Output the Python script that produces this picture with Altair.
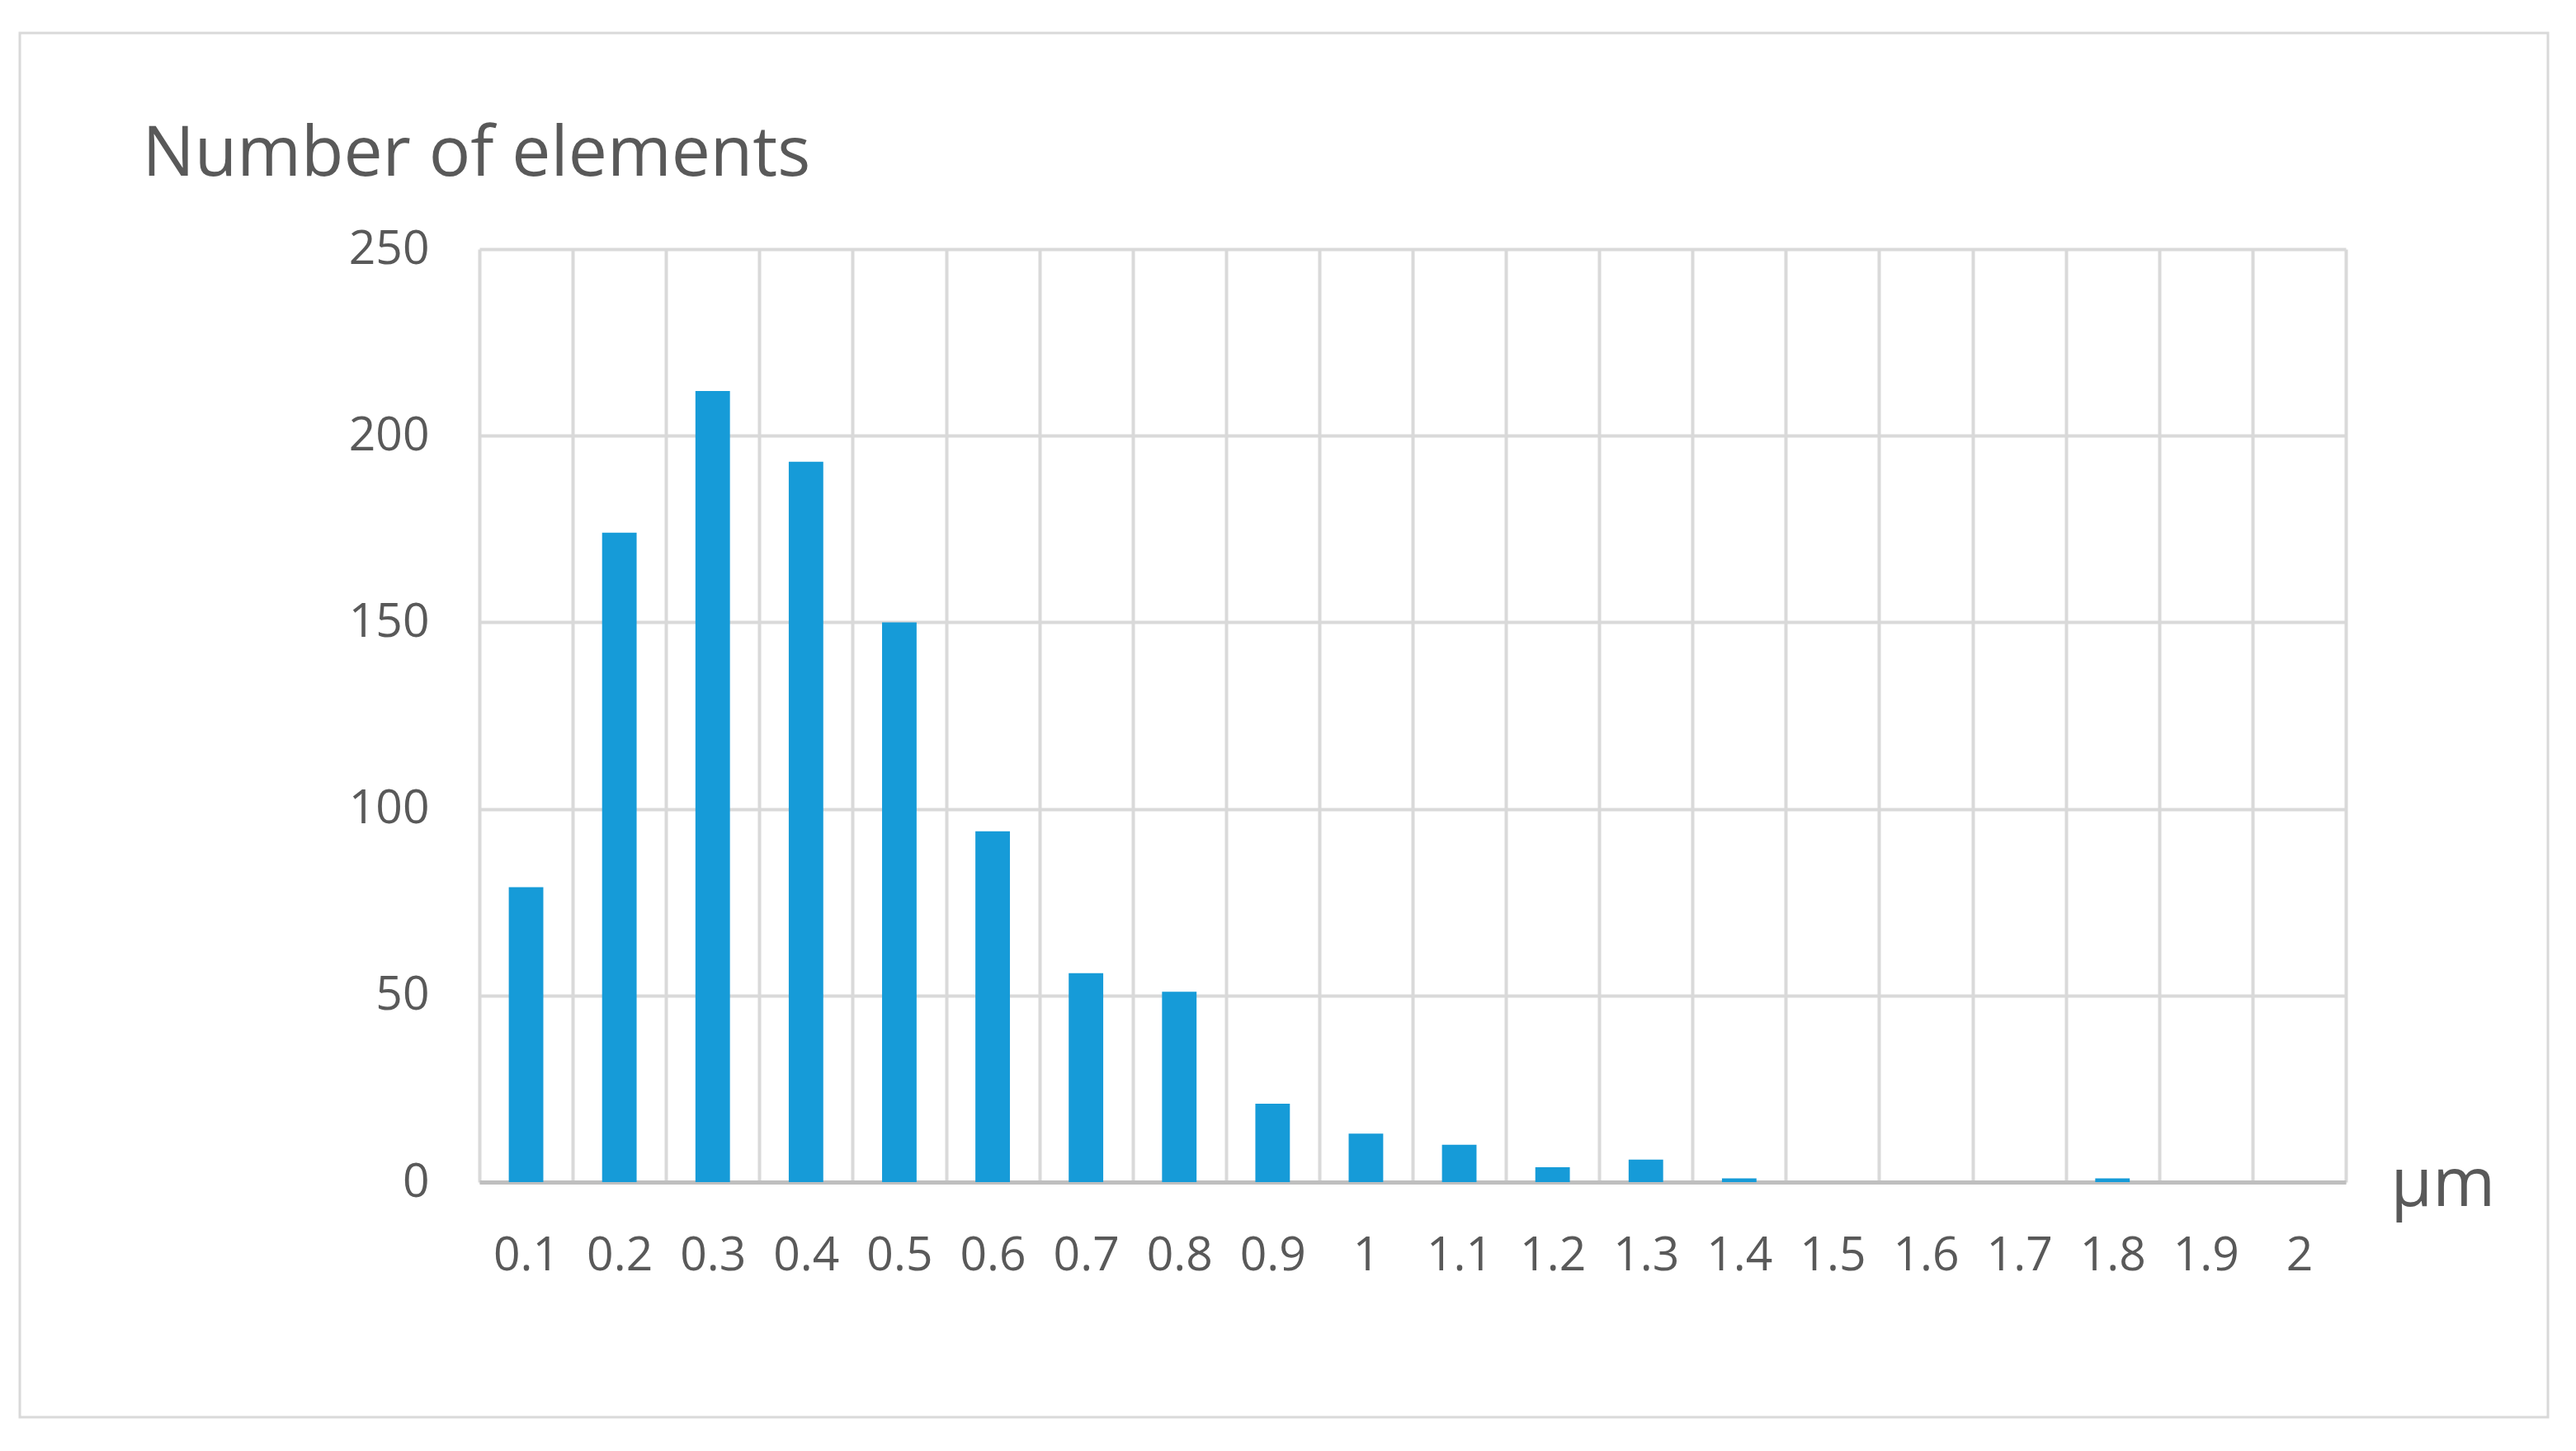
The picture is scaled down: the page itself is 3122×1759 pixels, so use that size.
import altair as alt
import pandas as pd

categories = ["0.1", "0.2", "0.3", "0.4", "0.5", "0.6", "0.7", "0.8", "0.9", "1",
              "1.1", "1.2", "1.3", "1.4", "1.5", "1.6", "1.7", "1.8", "1.9", "2"]
counts = [79, 174, 212, 193, 150, 94, 56, 51, 21, 13, 10, 4, 6, 1, 0, 0, 0, 1, 0, 0]
y_ticks = [0, 50, 100, 150, 200, 250]

df = pd.DataFrame({"size": categories, "count": counts})

FONT = "Open Sans"
TEXT = "#595959"
GRID = "#d9d9d9"
BAR = "#169BD8"

PL, PT, W, H = 581, 302, 2262, 1131
pad = {"left": PL - 8, "top": PT - 8,
       "right": 3100 - (PL - 8) - W, "bottom": 1740 - (PT - 8) - H}

frame = alt.Chart(pd.DataFrame({"a": [0]})).mark_rect(
    filled=False, stroke=GRID, strokeWidth=3
).encode(
    x=alt.value(24 - PL), x2=alt.value(3088 - PL),
    y=alt.value(40 - PT), y2=alt.value(1718 - PT),
)

bars = alt.Chart(df).mark_bar(color=BAR, width=alt.RelativeBandSize(0.37)).encode(
    x=alt.X(
        "size:N", sort=categories,
        scale=alt.Scale(paddingInner=0, paddingOuter=0),
        axis=alt.Axis(
            title="µm", titleX=2897 - PL, titleY=28, titleAlign="left",
            titleBaseline="alphabetic", titleFontSize=82, titleFont=FONT,
            titleColor=TEXT, titleFontWeight="normal",
            labelAngle=0, labelFontSize=57, labelFont=FONT, labelColor=TEXT,
            labelPadding=61, labelBaseline="top", ticks=False, tickSize=0,
            domainColor="#bfbfbf", domainWidth=5,
            grid=True, gridColor=GRID, gridWidth=4, tickBand="extent",
        ),
    ),
    y=alt.Y(
        "count:Q", scale=alt.Scale(domain=[0, 250], nice=False),
        axis=alt.Axis(
            values=y_ticks,
            title="Number of elements", titleAngle=0, titleX=172 - PL, titleY=212 - PT,
            titleAlign="left", titleBaseline="alphabetic", titleFontSize=84,
            titleFont=FONT, titleColor=TEXT, titleFontWeight="normal",
            labelFontSize=57, labelFont=FONT, labelColor=TEXT, labelPadding=61,
            labelBaseline="middle", ticks=False, tickSize=0, domain=False,
            grid=True, gridColor=GRID, gridWidth=4,
        ),
    ),
)

chart = alt.layer(frame, bars).properties(
    width=W, height=H,
    autosize=alt.AutoSizeParams(type="none"),
    padding=pad,
    background="white",
).configure_view(stroke=None)

chart.save("out.html", embed_options={"renderer": "svg", "actions": False})
